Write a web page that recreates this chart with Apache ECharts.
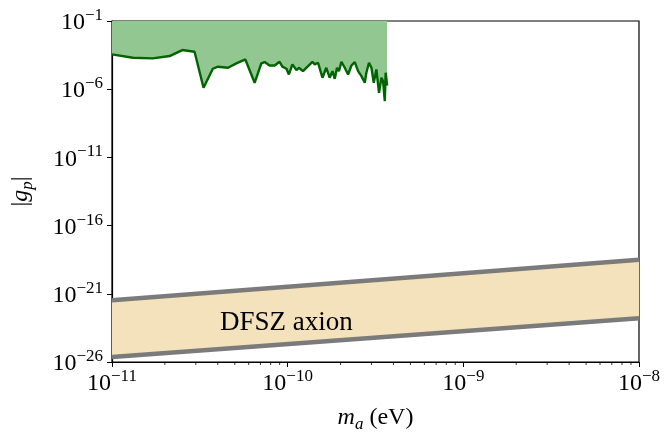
<!DOCTYPE html>
<html>
<head>
<meta charset="utf-8">
<script src="https://cdn.jsdelivr.net/npm/echarts@6/dist/echarts.min.js"></script>
<style>
  html, body { margin: 0; padding: 0; background: #fff; }
  #chart { width: 665px; height: 433px; }
</style>
</head>
<body>
<div id="chart"></div>
<script>
// all values are log10 of the quantity (mass in eV, |g_p|)
const limitLogMass = [-11.0, -10.881, -10.768, -10.672, -10.600, -10.530, -10.479, -10.426, -10.397, -10.340,
  -10.292, -10.241, -10.188, -10.150, -10.131, -10.103, -10.074, -10.046, -10.030, -10.007,
  -9.993, -9.973, -9.950, -9.936, -9.913, -9.884, -9.859, -9.846, -9.827, -9.802,
  -9.780, -9.761, -9.745, -9.732, -9.719, -9.708, -9.694, -9.675, -9.656, -9.637,
  -9.618, -9.599, -9.580, -9.561, -9.552, -9.537, -9.523, -9.510, -9.495, -9.480,
  -9.466, -9.457, -9.447, -9.442, -9.434]
const limitLogG = [-3.45, -3.69, -3.74, -3.57, -3.13, -3.25, -5.90, -4.50, -4.35, -4.43,
  -4.11, -3.82, -5.53, -4.11, -4.01, -4.26, -4.26, -3.99, -4.35, -4.50,
  -4.92, -4.18, -4.60, -4.43, -4.68, -4.31, -3.99, -4.18, -4.06, -5.16,
  -4.43, -5.16, -4.68, -5.24, -4.43, -4.68, -3.99, -4.43, -4.92, -4.26,
  -4.01, -4.68, -5.04, -5.53, -4.79, -4.06, -4.43, -5.53, -4.55, -6.26,
  -5.16, -5.41, -6.88, -4.79, -5.73]

const dfszLogMass = [-11, -8]
const dfszUpperLogG = [-21.47, -18.5]
const dfszLowerLogG = [-25.63, -22.8]

const xTicks = [-11, -10, -9, -8]
const yTicks = [-26, -21, -16, -11, -6, -1]
const minorMultipliers = [2, 3, 4, 5, 6, 7, 8, 9]

const SERIF = "'Liberation Serif', 'DejaVu Serif', serif"

let limitData = limitLogMass.map((x, i) => [x, limitLogG[i]])
let upperData = dfszLogMass.map((x, i) => [x, dfszUpperLogG[i]])
let lowerData = dfszLogMass.map((x, i) => [x, dfszLowerLogG[i]])

let minorData = []
for (let n = xTicks[0]; n < xTicks[xTicks.length - 1]; n++) {
  minorMultipliers.forEach(k => minorData.push([n + Math.log10(k), yTicks[0]]))
}

function powLabel(v) {
  let e = v < 0 ? '\u2212' + (-v) : String(v)
  return '{b|10}{e|' + e + '}'
}
const powRich = {
  b: { fontFamily: SERIF, fontSize: 24, lineHeight: 28, color: '#000', verticalAlign: 'bottom' },
  e: { fontFamily: SERIF, fontSize: 17, lineHeight: 17, color: '#000', verticalAlign: 'top' }
}

let chart = echarts.init(document.getElementById('chart'))
let option = {
  animation: false,
  grid: {
    left: 112, right: 26, top: 21, bottom: 71,
    outerBoundsMode: 'none',
    show: true, borderColor: '#000', borderWidth: 1.2, backgroundColor: 'transparent'
  },
  xAxis: {
    type: 'value', min: -11, max: -8, interval: 1,
    axisLine: { lineStyle: { color: '#000', width: 1.2 } },
    axisTick: { length: 5, lineStyle: { color: '#000', width: 1 } },
    splitLine: { show: false },
    axisLabel: { margin: 6, formatter: powLabel, rich: powRich },
    name: '{i|m}{s|a}{n| (eV)}',
    nameLocation: 'middle',
    nameGap: 41,
    nameTextStyle: {
      rich: {
        i: { fontFamily: SERIF, fontStyle: 'italic', fontSize: 24, lineHeight: 30, color: '#000' },
        s: { fontFamily: SERIF, fontStyle: 'italic', fontSize: 17, lineHeight: 17, color: '#000', verticalAlign: 'bottom' },
        n: { fontFamily: SERIF, fontSize: 24, lineHeight: 30, color: '#000' }
      }
    }
  },
  yAxis: {
    type: 'value', min: -26, max: -1, interval: 5,
    axisLine: { lineStyle: { color: '#000', width: 1.2 } },
    axisTick: { length: 5, lineStyle: { color: '#000', width: 1 } },
    splitLine: { show: false },
    axisLabel: { margin: 9, formatter: powLabel, rich: powRich },
    name: '{n||}{i|g}{s|p}{n||}',
    nameLocation: 'middle',
    nameRotate: 90,
    nameGap: 76,
    nameTextStyle: {
      rich: {
        i: { fontFamily: SERIF, fontStyle: 'italic', fontSize: 24, lineHeight: 30, color: '#000' },
        s: { fontFamily: SERIF, fontStyle: 'italic', fontSize: 17, lineHeight: 17, color: '#000', verticalAlign: 'bottom' },
        n: { fontFamily: SERIF, fontSize: 24, lineHeight: 30, color: '#000' }
      }
    }
  },
  series: [
    {
      // DFSZ band fill
      type: 'custom',
      clip: true,
      silent: true,
      data: [0],
      renderItem: function (params, api) {
        let pts = upperData.map(d => api.coord(d))
        lowerData.slice().reverse().forEach(d => pts.push(api.coord(d)))
        return { type: 'polygon', shape: { points: pts }, style: { fill: '#f3e2bb' } }
      },
      z: 1
    },
    {
      type: 'line', data: upperData, symbol: 'none', clip: true, silent: true,
      lineStyle: { color: '#7b7b7b', width: 4.5 }, z: 3
    },
    {
      type: 'line', data: lowerData, symbol: 'none', clip: true, silent: true,
      lineStyle: { color: '#7b7b7b', width: 4.5 }, z: 3
    },
    {
      // excluded region
      type: 'line', data: limitData, symbol: 'none', clip: true, silent: true,
      lineStyle: { color: '#006400', width: 2.4 },
      areaStyle: { color: '#92c792', opacity: 1, origin: 'end' },
      z: 4
    },
    {
      // log minor ticks on the mass axis
      type: 'custom', silent: true, clip: false,
      data: minorData,
      renderItem: function (params, api) {
        let p = api.coord([api.value(0), api.value(1)])
        return {
          type: 'line',
          shape: { x1: p[0], y1: p[1], x2: p[0], y2: p[1] + 3 },
          style: { stroke: '#000', lineWidth: 0.8 }
        }
      },
      z: 5
    }
  ],
  graphic: [
    {
      type: 'text', left: 220, top: 309, z: 10,
      style: { text: 'DFSZ axion', fontFamily: SERIF, fontSize: 27, fill: '#000' }
    }
  ]
}
chart.setOption(option)
</script>
</body>
</html>
